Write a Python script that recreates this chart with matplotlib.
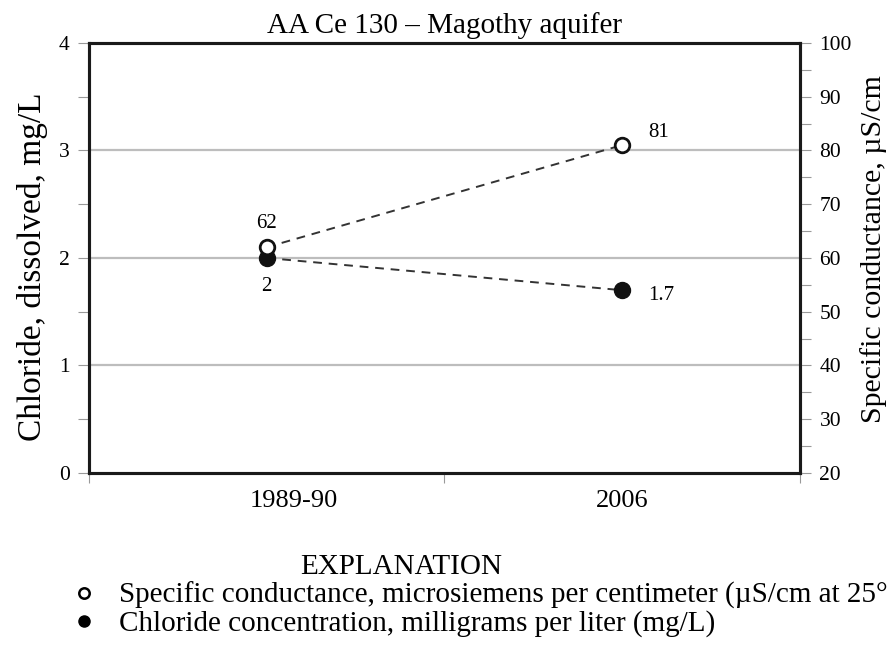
import numpy as np
import matplotlib
matplotlib.use("Agg")
import matplotlib.pyplot as plt
from matplotlib.lines import Line2D
from matplotlib.transforms import ScaledTranslation

# data
periods = ["1989-90", "2006"]
chloride = [2.0, 1.7]          # mg/L, left axis
conductance = [62, 81]         # uS/cm, right axis
chloride_labels = ["2", "1.7"]
conductance_labels = ["62", "81"]

title = "AA Ce 130 \u2013 Magothy aquifer"
left_label = "Chloride, dissolved, mg/L"
right_label = "Specific conductance, \u00b5S/cm"
legend_title = "EXPLANATION"
legend_items = [
    "Specific conductance, microsiemens per centimeter (\u00b5S/cm at 25\u00b0",
    "Chloride concentration, milligrams per liter (mg/L)",
]

plt.rcParams["font.family"] = ["Liberation Serif", "DejaVu Serif"]

fig = plt.figure(figsize=(8.95, 6.45), dpi=100)
ax = fig.add_axes([0.0994, 0.2667, 0.7944, 0.6667])
ax2 = ax.twinx()

x = np.arange(len(periods)) + 0.5

# grid on the left axis
ax.set_ylim(0, 4)
ax.set_yticks([0, 1, 2, 3, 4])
ax.set_yticks(np.arange(0.5, 4, 1.0), minor=True)
for g in [1, 2, 3]:
    ax.axhline(g, color="#bdbdbd", lw=1.6, zorder=0)

ax.set_xlim(0, 2)
ax.set_xticks([0, 1, 2])
ax.set_xticklabels([])
ax.set_xticks(x, minor=True)
ax.set_xticklabels(periods, minor=True, fontsize=19)
ax.tick_params(axis="x", which="minor", length=0, pad=12)
ax.tick_params(axis="x", which="major", length=7, width=0.8, color="#999999")
ax.tick_params(axis="y", which="both", length=8, width=0.8, color="#999999",
               labelsize=15.5, pad=6)
# the first period label sits a little right of its points in the original
first = ax.get_xticklabels(minor=True)[0]
first.set_transform(first.get_transform() + ScaledTranslation(0.27, 0, fig.dpi_scale_trans))

ax2.set_ylim(20, 100)
ax2.set_yticks(np.arange(20, 101, 10))
ax2.set_yticks(np.arange(25, 100, 10), minor=True)
ax2.tick_params(axis="y", which="both", length=8, width=0.8, color="#999999",
                labelsize=15.5, pad=6)

for a in (ax, ax2):
    for s in a.spines.values():
        s.set_linewidth(2.2)
        s.set_color("#1a1a1a")

# dashed connecting lines and markers
dash = (0, (4.5, 3.5))
ax.plot(x, chloride, ls=dash, color="#333333", lw=1.4, zorder=2)
ax.plot(x, chloride, "o", ms=11.5, color="#111111", zorder=3)
ax2.plot(x, conductance, ls=dash, color="#333333", lw=1.4, zorder=2)
ax2.plot(x, conductance, "o", ms=10.5, mfc="white", mec="#111111", mew=2.0, zorder=4)

# value labels
ax.annotate(chloride_labels[0], (x[0], chloride[0]), xytext=(0, -14),
            textcoords="offset points", ha="center", va="top", fontsize=15)
ax.annotate(chloride_labels[1], (x[1], chloride[1]), xytext=(19, -4),
            textcoords="offset points", ha="left", va="center", fontsize=15)
ax2.annotate(conductance_labels[0], (x[0], conductance[0]), xytext=(0, 10),
             textcoords="offset points", ha="center", va="bottom", fontsize=15)
ax2.annotate(conductance_labels[1], (x[1], conductance[1]), xytext=(19, 9),
             textcoords="offset points", ha="left", va="center", fontsize=15)

ax.set_title(title, fontsize=21, pad=7)
ax.set_ylabel(left_label, fontsize=24, labelpad=8)
ax2.set_ylabel(right_label, fontsize=21.5, labelpad=6)
ax.yaxis.label.set_y(0.48)
ax2.yaxis.label.set_y(0.52)

# explanation block
fig.text(0.448, 0.121, legend_title, ha="center", va="center", fontsize=21)
handles = [
    Line2D([0], [0], marker="o", ls="none", ms=7.5, mfc="white", mec="black", mew=1.8),
    Line2D([0], [0], marker="o", ls="none", ms=8, mfc="black", mec="black"),
]
fig.legend(handles, legend_items, loc="upper left", bbox_to_anchor=(0.081, 0.098),
           frameon=False, fontsize=21, handlelength=0.8, handletextpad=0.8,
           labelspacing=0.05, borderpad=0, borderaxespad=0)

fig.savefig("out.png", dpi=100)
